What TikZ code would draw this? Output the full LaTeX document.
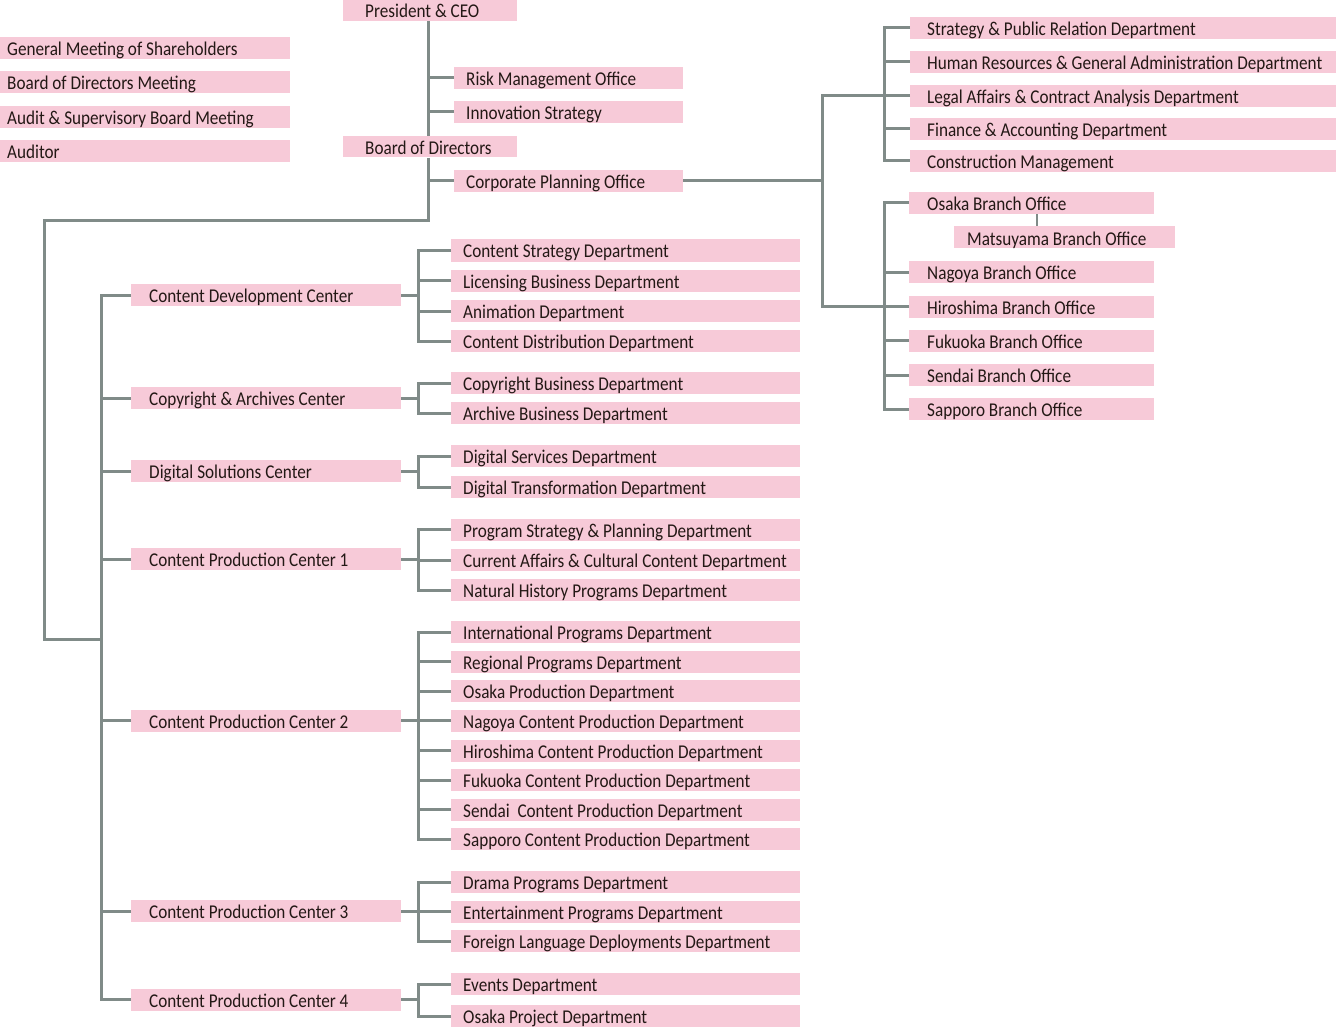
\documentclass[tikz,border=0pt]{standalone}
\usepackage{fontspec}
\setmainfont[FakeStretch=0.88]{Carlito}
\definecolor{boxpink}{RGB}{247,202,216}
\definecolor{linegray}{RGB}{128,139,136}
\definecolor{txt}{RGB}{35,24,21}
\newcommand\bx[3]{\makebox[#1pt][l]{\hspace*{#2pt}#3}}
\begin{document}
\begin{tikzpicture}[x=1pt,y=-1pt,
  box/.style={fill=boxpink, inner sep=0pt, minimum height=22pt, anchor=west,
    text height=18pt, text depth=3pt, font=\fontsize{19.5}{22}\selectfont, text=txt},
  ln/.style={draw=linegray, line width=3pt}]
\useasboundingbox (0,0) rectangle (1336,1027);

% top-left meetings
\node[box] (gms) at (0,48.5) {\bx{290}{7}{General Meeting of Shareholders}};
\node[box] (bdm) at (0,82.5) {\bx{290}{7}{Board of Directors Meeting}};
\node[box] (asb) at (0,117) {\bx{290}{7}{Audit \& Supervisory Board Meeting}};
\node[box] (aud) at (0,151) {\bx{290}{7}{Auditor}};

% top centre
\node[box, minimum height=21pt] (ceo) at (343,10.5) {\bx{174}{22}{President \& CEO}};
\node[box] (risk) at (454,78) {\bx{229}{12}{Risk Management Office}};
\node[box] (innov) at (454,112) {\bx{229}{12}{Innovation Strategy}};
\node[box, minimum height=21pt] (bod) at (343,147) {\bx{174}{22}{Board of Directors}};
\node[box] (cpo) at (454,181) {\bx{229}{12}{Corporate Planning Office}};

% right top group
\node[box] (spr) at (910,28) {\bx{426}{17}{Strategy \& Public Relation Department}};
\node[box] (hrg) at (910,62) {\bx{426}{17}{Human Resources \& General Administration Department}};
\node[box] (leg) at (910,96) {\bx{426}{17}{Legal Affairs \& Contract Analysis Department}};
\node[box] (fin) at (910,129) {\bx{426}{17}{Finance \& Accounting Department}};
\node[box] (con) at (910,161) {\bx{426}{17}{Construction Management}};

% right branch offices
\node[box] (osa) at (909,203) {\bx{245}{18}{Osaka Branch Office}};
\node[box] (mat) at (954,237.5) {\bx{221}{13}{Matsuyama Branch Office}};
\node[box] (nag) at (909,272) {\bx{245}{18}{Nagoya Branch Office}};
\node[box] (hir) at (909,306.5) {\bx{245}{18}{Hiroshima Branch Office}};
\node[box] (fuk) at (909,340.5) {\bx{245}{18}{Fukuoka Branch Office}};
\node[box] (sen) at (909,375) {\bx{245}{18}{Sendai Branch Office}};
\node[box] (sap) at (909,409) {\bx{245}{18}{Sapporo Branch Office}};

% centres
\node[box] (cdc) at (131,295) {\bx{270}{18}{Content Development Center}};
\node[box] (cac) at (131,398) {\bx{270}{18}{Copyright \& Archives Center}};
\node[box] (dsc) at (131,471) {\bx{270}{18}{Digital Solutions Center}};
\node[box] (cp1) at (131,559) {\bx{270}{18}{Content Production Center 1}};
\node[box] (cp2) at (131,720.5) {\bx{270}{18}{Content Production Center 2}};
\node[box] (cp3) at (131,911) {\bx{270}{18}{Content Production Center 3}};
\node[box] (cp4) at (131,999.5) {\bx{270}{18}{Content Production Center 4}};

% departments
\node[box] (d1) at (451,250.5) {\bx{349}{12}{Content Strategy Department}};
\node[box] (d2) at (451,280.5) {\bx{349}{12}{Licensing Business Department}};
\node[box] (d3) at (451,311) {\bx{349}{12}{Animation Department}};
\node[box] (d4) at (451,341) {\bx{349}{12}{Content Distribution Department}};
\node[box] (d5) at (451,383) {\bx{349}{12}{Copyright Business Department}};
\node[box] (d6) at (451,413) {\bx{349}{12}{Archive Business Department}};
\node[box] (d7) at (451,456) {\bx{349}{12}{Digital Services Department}};
\node[box] (d8) at (451,487) {\bx{349}{12}{Digital Transformation Department}};
\node[box] (d9) at (451,529.5) {\bx{349}{12}{Program Strategy \& Planning Department}};
\node[box] (d10) at (451,560) {\bx{349}{12}{Current Affairs \& Cultural Content Department}};
\node[box] (d11) at (451,590) {\bx{349}{12}{Natural History Programs Department}};
\node[box] (d12) at (451,632) {\bx{349}{12}{International Programs Department}};
\node[box] (d13) at (451,661.5) {\bx{349}{12}{Regional Programs Department}};
\node[box] (d14) at (451,691) {\bx{349}{12}{Osaka Production Department}};
\node[box] (d15) at (451,720.5) {\bx{349}{12}{Nagoya Content Production Department}};
\node[box] (d16) at (451,750.5) {\bx{349}{12}{Hiroshima Content Production Department}};
\node[box] (d17) at (451,780) {\bx{349}{12}{Fukuoka Content Production Department}};
\node[box] (d18) at (451,809.5) {\bx{349}{12}{Sendai\ \ Content Production Department}};
\node[box] (d19) at (451,839) {\bx{349}{12}{Sapporo Content Production Department}};
\node[box] (d20) at (451,882) {\bx{349}{12}{Drama Programs Department}};
\node[box] (d21) at (451,911.5) {\bx{349}{12}{Entertainment Programs Department}};
\node[box] (d22) at (451,941) {\bx{349}{12}{Foreign Language Deployments Department}};
\node[box] (d23) at (451,984) {\bx{349}{12}{Events Department}};
\node[box] (d24) at (451,1016) {\bx{349}{12}{Osaka Project Department}};

% helper coordinates
\coordinate (tx) at (428,0);
\coordinate (bend) at (44,221);
\coordinate (lv) at (101,0);
\coordinate (sv) at (418,0);
\coordinate (rv) at (822,0);
\coordinate (gv) at (884,0);
\coordinate (mx) at (1037,0);
\coordinate (ltr) at (101,639);

% top trunk
\draw[ln] (ceo.south -| tx) -- (bod.north -| tx);
\draw[ln] (bod.south -| tx) |- (bend) |- (ltr);
\foreach \n in {risk,innov,cpo} \draw[ln] (\n.west) -- (\n.west -| tx);

% right side
\draw[ln] (cpo.east) -- (cpo.east -| rv);
\draw[ln] (leg.west -| gv) -| (rv |- hir.west) -- (hir.west -| gv);
\draw[ln] (spr.west) -| (con.west -| gv) -- (con.west);
\foreach \n in {hrg,leg,fin} \draw[ln] (\n.west) -- (\n.west -| gv);
\draw[ln] (osa.west) -| (sap.west -| gv) -- (sap.west);
\foreach \n in {nag,hir,fuk,sen} \draw[ln] (\n.west) -- (\n.west -| gv);
\draw[ln, line width=2.4pt] (osa.south -| mx) -- (mat.north -| mx);

% left trunk
\draw[ln] (cdc.west) -| (cp4.west -| lv) -- (cp4.west);
\foreach \n in {cac,dsc,cp1,cp2,cp3} \draw[ln] (\n.west) -- (\n.west -| lv);

% centre to departments
\foreach \c/\f/\l/\lst in {cdc/d1/d4/{d2,d3}, cac/d5/d6/{}, dsc/d7/d8/{},
    cp1/d9/d11/{d10}, cp2/d12/d19/{d13,d14,d15,d16,d17,d18},
    cp3/d20/d22/{d21}, cp4/d23/d24/{}} {
  \draw[ln] (\c.east) -- (\c.east -| sv);
  \draw[ln] (\f.west) -| (\l.west -| sv) -- (\l.west);
  \foreach \d in \lst \draw[ln] (\d.west) -- (\d.west -| sv);
}
\end{tikzpicture}
\end{document}
